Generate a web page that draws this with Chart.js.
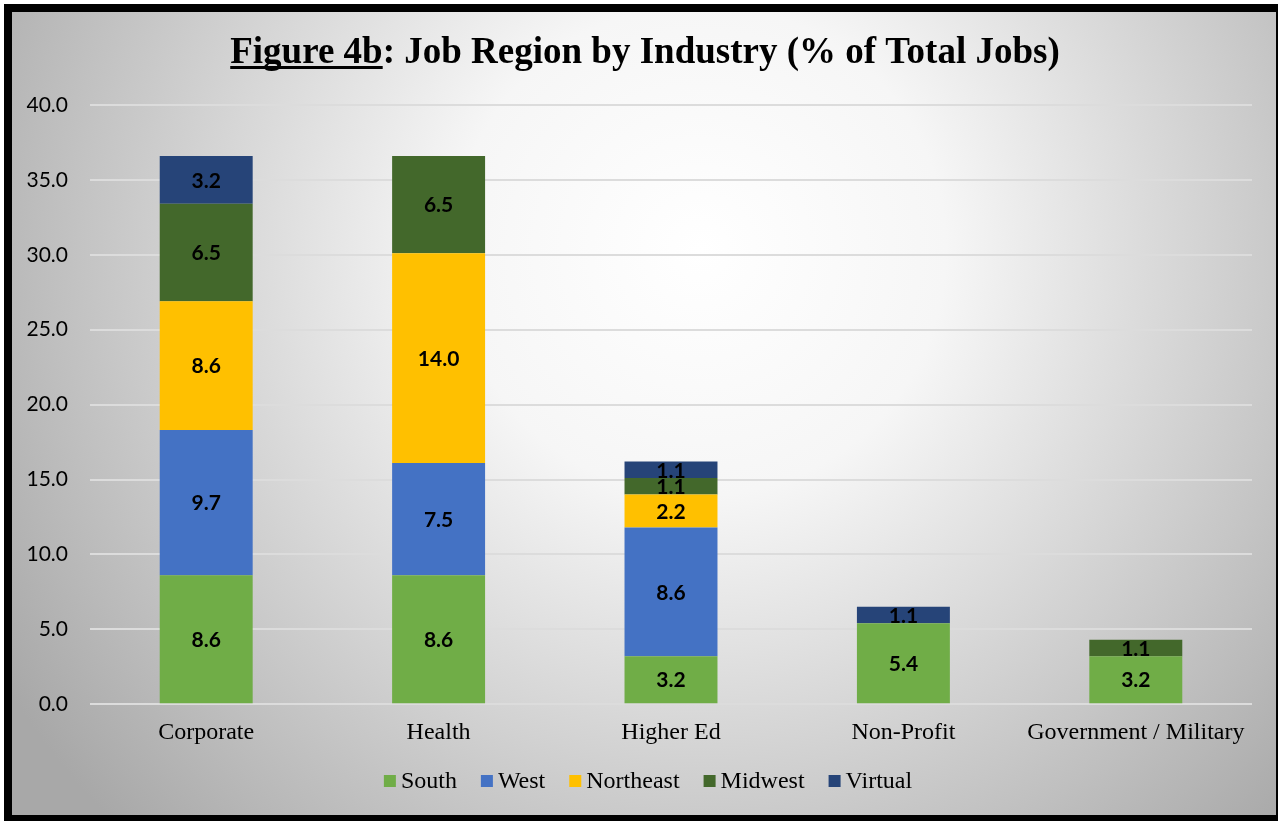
<!DOCTYPE html>
<html>
<head>
<meta charset="utf-8">
<script src="https://cdn.jsdelivr.net/npm/chart.js@4/dist/chart.umd.min.js"></script>
<style>
  html, body { margin: 0; padding: 0; background: #fff; }
  #wrap { width: 1278px; height: 821px; position: relative; }
</style>
</head>
<body>
<div id="wrap"><canvas id="jobChart"></canvas></div>
<script>
// Industries and regional share of total jobs (%)
const industries = ['Corporate', 'Health', 'Higher Ed', 'Non-Profit', 'Government / Military'];
const south     = [8.6, 8.6, 3.2, 5.4, 3.2];
const west      = [9.7, 7.5, 8.6, null, null];
const northeast = [8.6, 14.0, 2.2, null, null];
const midwest   = [6.5, 6.5, 1.1, null, 1.1];
const virtual   = [3.2, null, 1.1, 1.1, null];
const yTicks    = [0, 5, 10, 15, 20, 25, 30, 35, 40];

const serif = '"Liberation Serif", "Times New Roman", serif';
const sans = 'Lato, Carlito, "Open Sans", sans-serif';

// gray radial backdrop, black frame, part-underlined title and legend
const frame = {
    id: 'frame',
    beforeDraw(chart) {
        const ctx = chart.ctx;
        ctx.save();
        ctx.fillStyle = '#fff';
        ctx.fillRect(0, 0, chart.width, chart.height);
        const g = ctx.createRadialGradient(700, 250, 0, 700, 250, 820);
        g.addColorStop(0, '#ffffff');
        g.addColorStop(0.3, '#f6f6f6');
        g.addColorStop(1, '#a8a8a8');
        ctx.fillStyle = g;
        ctx.fillRect(4, 4, 1274, 817);
        ctx.restore();
    },
    afterDraw(chart) {
        const ctx = chart.ctx;
        ctx.save();
        ctx.fillStyle = '#000';
        ctx.fillRect(4, 4, 1274, 8);      // top
        ctx.fillRect(4, 4, 8, 817);       // left
        ctx.fillRect(4, 815, 1274, 6);    // bottom
        ctx.fillRect(1276, 4, 2, 817);    // right

        // title
        ctx.font = 'bold 37px ' + serif;
        ctx.textBaseline = 'alphabetic';
        const part1 = 'Figure 4b';
        const part2 = ': Job Region by Industry (% of Total Jobs)';
        const w1 = ctx.measureText(part1).width;
        const w2 = ctx.measureText(part2).width;
        const x0 = 645 - (w1 + w2) / 2;
        const base = 63;
        ctx.fillText(part1, x0, base);
        ctx.fillText(part2, x0 + w1, base);
        ctx.fillRect(x0, base + 3, w1, 3);

        // legend row
        ctx.font = '24px ' + serif;
        ctx.textBaseline = 'middle';
        const items = chart.data.datasets.map(ds => ({
            text: ds.label,
            color: ds.backgroundColor,
            w: ctx.measureText(ds.label).width
        }));
        const box = 12, gapIn = 5, gapOut = 24;
        const total = items.reduce((s, it) => s + box + gapIn + it.w, 0) + gapOut * (items.length - 1);
        let x = 648 - total / 2;
        const ly = 782;
        items.forEach(it => {
            ctx.fillStyle = it.color;
            ctx.fillRect(x, ly - box / 2 - 1, box, box);
            ctx.fillStyle = '#000';
            ctx.fillText(it.text, x + box + gapIn, ly);
            x += box + gapIn + it.w + gapOut;
        });
        ctx.restore();
    }
};

// values written in the middle of each segment
const segLabels = {
    id: 'segLabels',
    afterDatasetsDraw(chart) {
        const ctx = chart.ctx;
        ctx.save();
        ctx.font = 'bold 21px ' + sans;
        ctx.fillStyle = '#000';
        ctx.textAlign = 'center';
        ctx.textBaseline = 'middle';
        chart.data.datasets.forEach((ds, i) => {
            const meta = chart.getDatasetMeta(i);
            meta.data.forEach((bar, j) => {
                const v = ds.data[j];
                if (v == null) return;
                const mid = (bar.y + bar.base) / 2;
                ctx.fillText(v.toFixed(1), bar.x, mid + 1);
            });
        });
        ctx.restore();
    }
};

const ctx = document.getElementById('jobChart').getContext('2d');
new Chart(ctx, {
    type: 'bar',
    data: {
        labels: industries,
        datasets: [
            { label: 'South', data: south, backgroundColor: '#70ad47' },
            { label: 'West', data: west, backgroundColor: '#4472c4' },
            { label: 'Northeast', data: northeast, backgroundColor: '#ffc000' },
            { label: 'Midwest', data: midwest, backgroundColor: '#43682b' },
            { label: 'Virtual', data: virtual, backgroundColor: '#264478' }
        ]
    },
    options: {
        responsive: true,
        maintainAspectRatio: false,
        animation: false,
        layout: { padding: { top: 105, left: 0, right: 26, bottom: 68 } },
        datasets: {
            bar: { categoryPercentage: 1, barPercentage: 0.4, borderWidth: 0 }
        },
        plugins: {
            title: { display: false },
            tooltip: { enabled: false },
            legend: { display: false }
        },
        scales: {
            x: {
                stacked: true,
                grid: { display: false },
                border: { display: false },
                ticks: {
                    font: { family: serif, size: 24 },
                    color: '#000',
                    padding: 6,
                    maxRotation: 0
                }
            },
            y: {
                stacked: true,
                min: 0,
                max: 40,
                afterBuildTicks(scale) {
                    scale.ticks = yTicks.map(v => ({ value: v }));
                },
                afterFit(scale) { scale.width = 90; },
                grid: { color: '#dcdcdc', lineWidth: 2, drawTicks: false },
                border: { display: false },
                ticks: {
                    font: { family: sans, size: 21 },
                    color: '#000',
                    padding: 22,
                    callback: v => v.toFixed(1)
                }
            }
        }
    },
    plugins: [frame, segLabels]
});
</script>
</body>
</html>
